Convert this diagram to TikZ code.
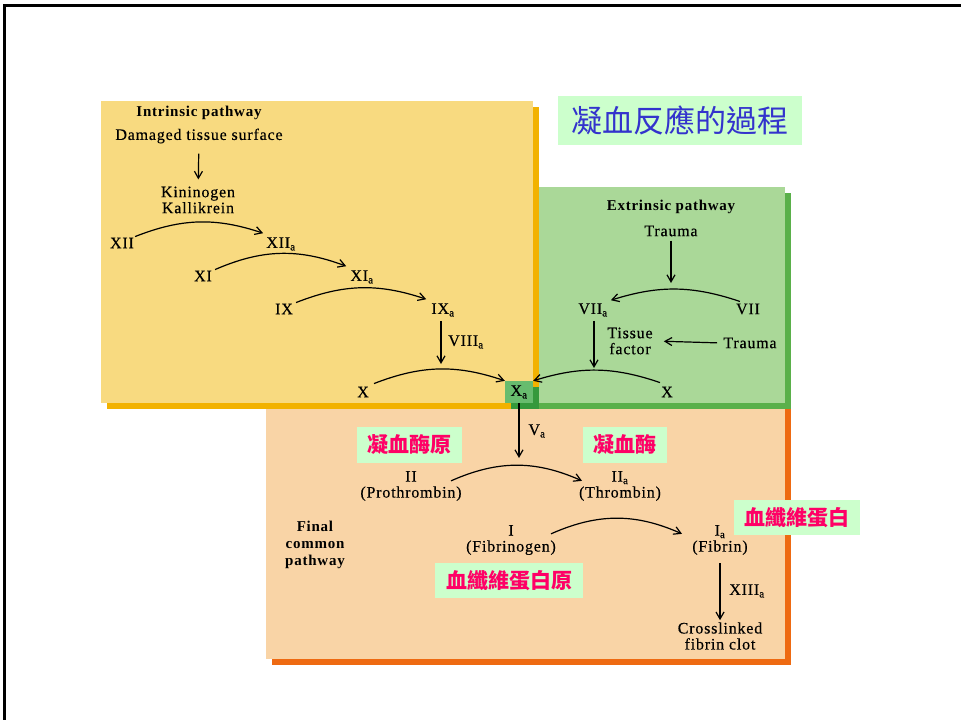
\documentclass[tikz,border=0pt]{standalone}
\usepackage{fontspec}
\setmainfont{Liberation Serif}[LetterSpace=5, UprightFeatures={FakeBold=0.3}]
\newfontfamily\cjk{Noto Sans CJK TC}
\usetikzlibrary{arrows.meta,calc}

\definecolor{intrfill}{HTML}{F8DA80}
\definecolor{intrshadow}{HTML}{F2B200}
\definecolor{extrfill}{HTML}{AAD898}
\definecolor{extrshadow}{HTML}{5AB04A}
\definecolor{finalfill}{HTML}{F9D4A6}
\definecolor{finalshadow}{HTML}{EE6A12}
\definecolor{xafill}{HTML}{68BC6E}
\definecolor{xashadow}{HTML}{35993C}
\definecolor{labelbg}{HTML}{CCFFCC}
\definecolor{labeltext}{HTML}{FF0066}
\definecolor{titletext}{HTML}{3333CC}

\begin{document}
\begin{tikzpicture}[x=1pt,y=1pt,
  lbl/.style={font=\fontsize{16}{16}\selectfont, inner sep=1pt, align=center},
  head/.style={font=\fontsize{15}{17}\selectfont\bfseries, inner sep=1pt, align=center},
  flow/.style={-{Straight Barb[length=7pt,width=8pt]}, line width=1.2pt},
  cnlabel/.style={fill=labelbg, text=labeltext, font=\cjk\bfseries\fontsize{21}{21}\selectfont, inner sep=0pt},
]
% page and frame
\useasboundingbox (0,0) rectangle (961,-720);
\fill[white] (0,0) rectangle (961,-720);
\fill[black] (3,-4) rectangle (961,-7);
\fill[black] (3,-4) rectangle (6,-720);

% panels with offset shadows
\fill[finalshadow] (272,-409) rectangle (791,-665);
\fill[finalfill] (266,-403) rectangle (785,-659);
\fill[extrshadow] (539,-193) rectangle (791,-409);
\fill[extrfill] (539,-187) rectangle (785,-403);
\fill[intrshadow] (107,-107) rectangle (539,-409);
\fill[intrfill] (101,-101) rectangle (533,-403);
\fill[xashadow] (511,-387) rectangle (539,-409);

% title
\node[fill=labelbg, text=titletext, font=\cjk\fontsize{31}{31}\selectfont,
      minimum width=244pt, minimum height=49pt, inner sep=0pt] (title) at (680,-120.5) {凝血反應的過程};

% intrinsic pathway
\node[head] (intr) at (199,-113) {Intrinsic pathway};
\node[lbl] (dts) at (199,-136) {Damaged tissue surface};
\node[lbl] (kk) at (198,-200) {Kininogen\\Kallikrein};
\draw[flow, shorten <=9pt, shorten >=6pt] (dts) -- (kk);

\node[lbl] (XII) at (122,-243) {XII};
\node[lbl] (XIIa) at (281,-244) {XII\textsubscript{a}};
\node[lbl] (XI) at (203,-276) {XI};
\node[lbl] (XIa) at (362,-277) {XI\textsubscript{a}};
\node[lbl] (IX) at (284,-309) {IX};
\node[lbl] (IXa) at (443,-310) {IX\textsubscript{a}};
\node[lbl] (X) at (363,-392) {X};
\node[lbl, fill=xafill, minimum width=28pt, minimum height=22pt, inner sep=0pt] (Xa) at (519,-392) {X\textsubscript{a}};

\draw[flow] (XII.north east) to[bend left=20] ([xshift=-2pt,yshift=3pt]XIIa.north west);
\draw[flow] ([xshift=2pt]XI.north east) to[bend left=22] ([xshift=-3pt,yshift=3pt]XIa.north west);
\draw[flow] ([xshift=2pt]IX.north east) to[bend left=20] ([xshift=-4pt,yshift=3pt]IXa.north west);
\draw[flow] ([xshift=4pt,yshift=2pt]X.north east) to[bend left=20] (Xa.north west);

\coordinate (xArcLeft) at (441,-364);
\draw[flow] ([yshift=-3pt]IXa.south -| xArcLeft) -- (xArcLeft);
\node[lbl] (VIIIa) at (466,-342) {VIII\textsubscript{a}};

% extrinsic pathway
\node[head] (extr) at (671,-207) {Extrinsic pathway};
\node[lbl] (trauma1) at (671,-231) {Trauma};
\coordinate (viiArcTop) at (671,-283);
\draw[flow] ([yshift=-3pt]trauma1.south) -- (viiArcTop);
\node[lbl] (VIIa) at (593,-310) {VII\textsubscript{a}};
\node[lbl] (VII) at (748,-309) {VII};
\draw[flow] ([xshift=5pt,yshift=1pt]VII.north west) to[bend right=18] ([xshift=2pt,yshift=2pt]VIIa.north east);
\coordinate (xArcRight) at (594,-368);
\draw[flow] ([yshift=-3pt]VIIa.south -| xArcRight) -- (xArcRight);
\node[lbl] (tf) at (630,-341) {Tissue\\factor};
\node[lbl] (trauma2) at (750,-343) {Trauma};
\draw[flow, shorten <=5pt, shorten >=10pt] (trauma2.west) -- (tf.east);
\node[lbl] (X2) at (667,-392) {X};
\draw[flow] ([yshift=3pt]X2.north west) to[bend right=18] (Xa.north east);

% final common pathway
\coordinate (iiArcTop) at (519,-458);
\draw[flow] (Xa.south) -- (iiArcTop);
\node[lbl] (Va) at (537,-431) {V\textsubscript{a}};
\node[lbl] (II) at (411,-486) {II\\(Prothrombin)};
\node[lbl] (IIa) at (620,-486) {II\textsubscript{a}\\(Thrombin)};
\draw[flow] ($(II.north)+(40,-11)$) to[bend left=24] ($(IIa.north)+(-38,-11)$);

\node[head] (fcp) at (315,-545) {Final\\common\\pathway};
\node[lbl] (I) at (511,-540) {I\\(Fibrinogen)};
\node[lbl] (Ia) at (720,-540) {I\textsubscript{a}\\(Fibrin)};
\draw[flow] ($(I.north)+(40,-10)$) to[bend left=24] ($(Ia.north)+(-38,-10)$);
\node[lbl] (clot) at (720,-636) {Crosslinked\\fibrin clot};
\draw[flow, shorten <=7pt, shorten >=1pt] (Ia.south -| clot.north) -- (clot.north);
\node[lbl] (XIIIa) at (747,-591) {XIII\textsubscript{a}};

% Chinese labels
\node[cnlabel, minimum width=105pt, minimum height=36pt] (prothrombinCN) at (409.5,-445) {凝血酶原};
\node[cnlabel, minimum width=84pt, minimum height=36pt] (thrombinCN) at (625,-445) {凝血酶};
\node[cnlabel, minimum width=126pt, minimum height=35pt] (fibrinCN) at (797,-517.5) {血纖維蛋白};
\node[cnlabel, minimum width=148pt, minimum height=35pt] (fibrinogenCN) at (509,-580.5) {血纖維蛋白原};
\end{tikzpicture}
\end{document}
